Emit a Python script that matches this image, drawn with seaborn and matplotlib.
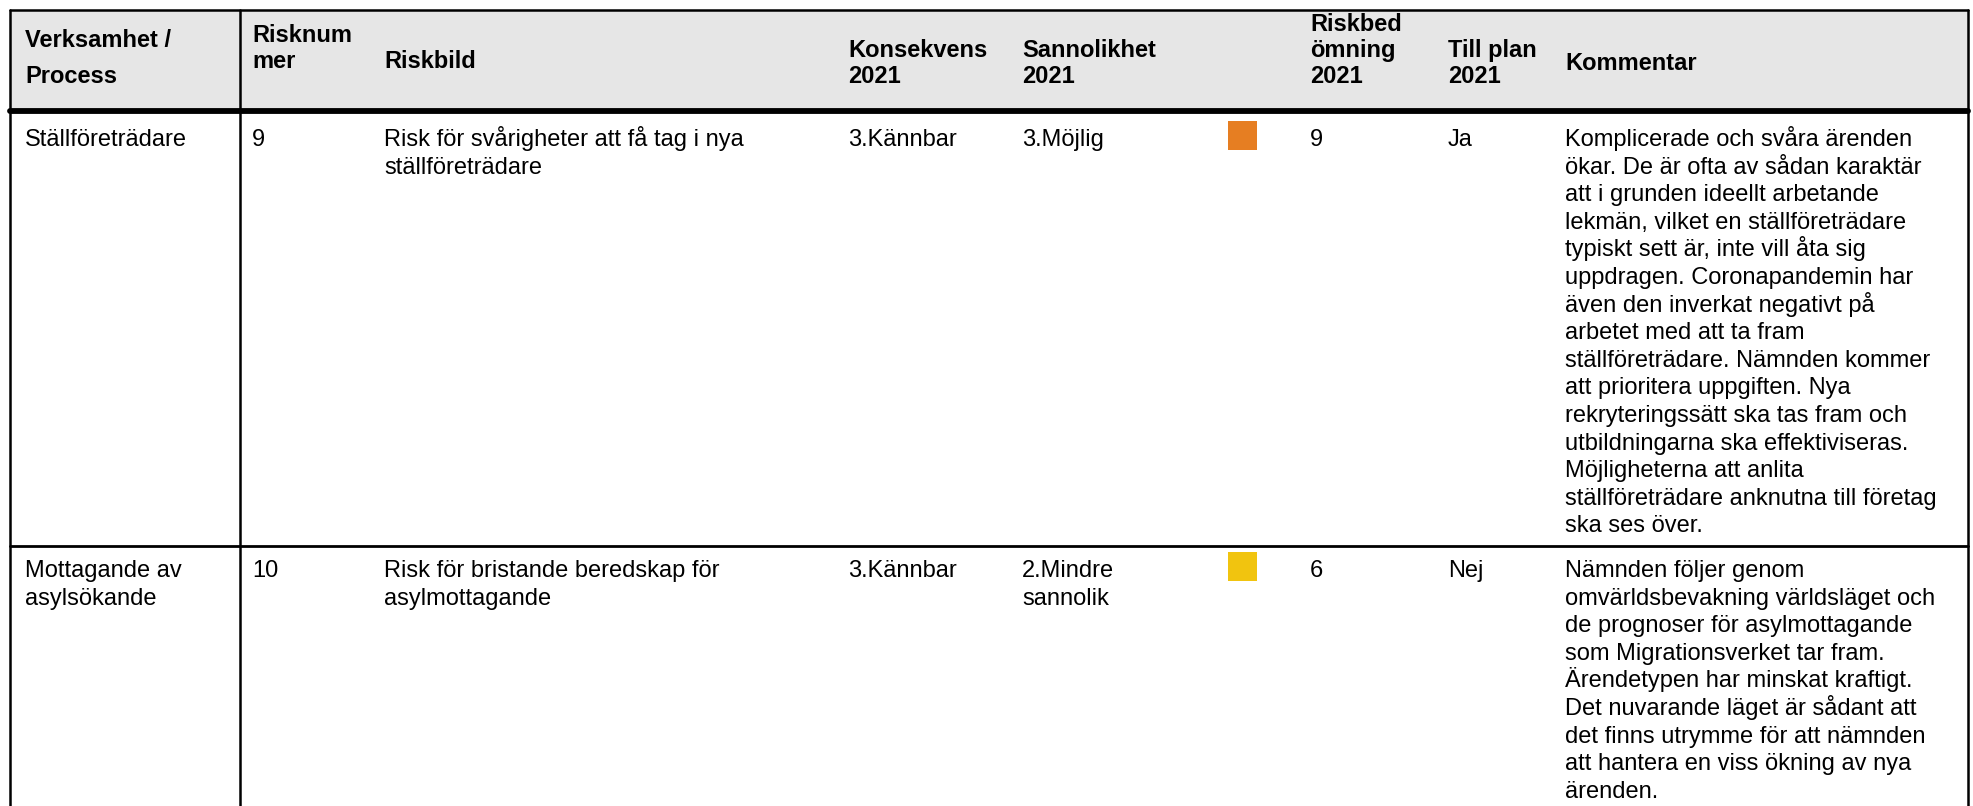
import matplotlib.pyplot as plt
import pandas as pd
import seaborn as sns

# header cells (one list of lines per column)
headers = [
    ["Verksamhet /", "Process"],
    ["Risknum", "mer"],
    ["Riskbild"],
    ["Konsekvens", "2021"],
    ["Sannolikhet", "2021"],
    [],
    ["Riskbed", "ömning", "2021"],
    ["Till plan", "2021"],
    ["Kommentar"],
]

processes = [["Ställföreträdare"], ["Mottagande av", "asylsökande"]]
risk_numbers = ["9", "10"]
risk_pictures = [
    ["Risk för svårigheter att få tag i nya", "ställföreträdare"],
    ["Risk för bristande beredskap för", "asylmottagande"],
]
consequences = ["3.Kännbar", "3.Kännbar"]
probabilities = [["3.Möjlig"], ["2.Mindre", "sannolik"]]
risk_scores = [9, 6]
risk_levels = ["Hög", "Medel"]
level_colors = {"Hög": "#E67E22", "Medel": "#F1C40F"}
to_plan = ["Ja", "Nej"]
comments = [
    [
        "Komplicerade och svåra ärenden",
        "ökar. De är ofta av sådan karaktär",
        "att i grunden ideellt arbetande",
        "lekmän, vilket en ställföreträdare",
        "typiskt sett är, inte vill åta sig",
        "uppdragen. Coronapandemin har",
        "även den inverkat negativt på",
        "arbetet med att ta fram",
        "ställföreträdare. Nämnden kommer",
        "att prioritera uppgiften. Nya",
        "rekryteringssätt ska tas fram och",
        "utbildningarna ska effektiviseras.",
        "Möjligheterna att anlita",
        "ställföreträdare anknutna till företag",
        "ska ses över.",
    ],
    [
        "Nämnden följer genom",
        "omvärldsbevakning världsläget och",
        "de prognoser för asylmottagande",
        "som Migrationsverket tar fram.",
        "Ärendetypen har minskat kraftigt.",
        "Det nuvarande läget är sådant att",
        "det finns utrymme för att nämnden",
        "att hantera en viss ökning av nya",
        "ärenden.",
    ],
]

# layout (pixels)
W, H = 1974, 806
col_x = [25, 252, 384, 848, 1022, 1228, 1310, 1448, 1565]
left, right, divider_x = 10, 1968, 240
top, header_bottom = 10, 111
row_tops = [111, 546]
line_h = 27.6
# baselines of the header lines, top to bottom
header_bases = [
    [47, 83], [42, 68], [68], [57, 83], [57, 83], [],
    [31, 57, 83], [57, 83], [70],
]
fs = 17

sns.set_theme(style="white")
plt.rcParams["font.family"] = ["Liberation Sans", "DejaVu Sans"]

fig = plt.figure(figsize=(W / 100, H / 100), dpi=100)
ax = fig.add_axes([0, 0, 1, 1])

# header background and grid lines
ax.fill_between([left, right], top, header_bottom, color="#E6E6E6", lw=0)
ax.plot([left, right], [top, top], color="black", lw=1.8)
ax.plot([left, right], [header_bottom, header_bottom], color="black", lw=4.2)
ax.plot([left, right], [row_tops[1], row_tops[1]], color="black", lw=2.0)
for x in [left, divider_x, right]:
    ax.plot([x, x], [top, H + 5], color="black", lw=1.8)

# header text
for x, lines, ys in zip(col_x, headers, header_bases):
    for s, y in zip(lines, ys):
        ax.text(x, y, s, fontsize=fs, fontweight="bold",
                va="baseline", ha="left", color="black")


def draw_lines(x, base, lines):
    for i, s in enumerate(lines):
        ax.text(x, base + i * line_h, s, fontsize=fs, va="baseline",
                ha="left", color="black")


bases = [row_tops[0] + 35, row_tops[1] + 31]
for r, base in enumerate(bases):
    draw_lines(col_x[0], base, processes[r])
    draw_lines(col_x[1], base, [risk_numbers[r]])
    draw_lines(col_x[2], base, risk_pictures[r])
    draw_lines(col_x[3], base, [consequences[r]])
    draw_lines(col_x[4], base, probabilities[r])
    draw_lines(col_x[6], base, [str(risk_scores[r])])
    draw_lines(col_x[7], base, [to_plan[r]])
    draw_lines(col_x[8], base, comments[r])

# risk colour squares
sq = pd.DataFrame({
    "x": [col_x[5] + 14.5] * len(bases),
    "y": [b - 10.5 for b in bases],
    "level": risk_levels,
})
sns.scatterplot(data=sq, x="x", y="y", hue="level", palette=level_colors,
                marker="s", s=(29 * 0.72) ** 2, linewidth=0, legend=False, ax=ax)

ax.set_xlim(0, W)
ax.set_ylim(H, 0)
ax.axis("off")

fig.savefig("out.png", dpi=100, facecolor="white")
